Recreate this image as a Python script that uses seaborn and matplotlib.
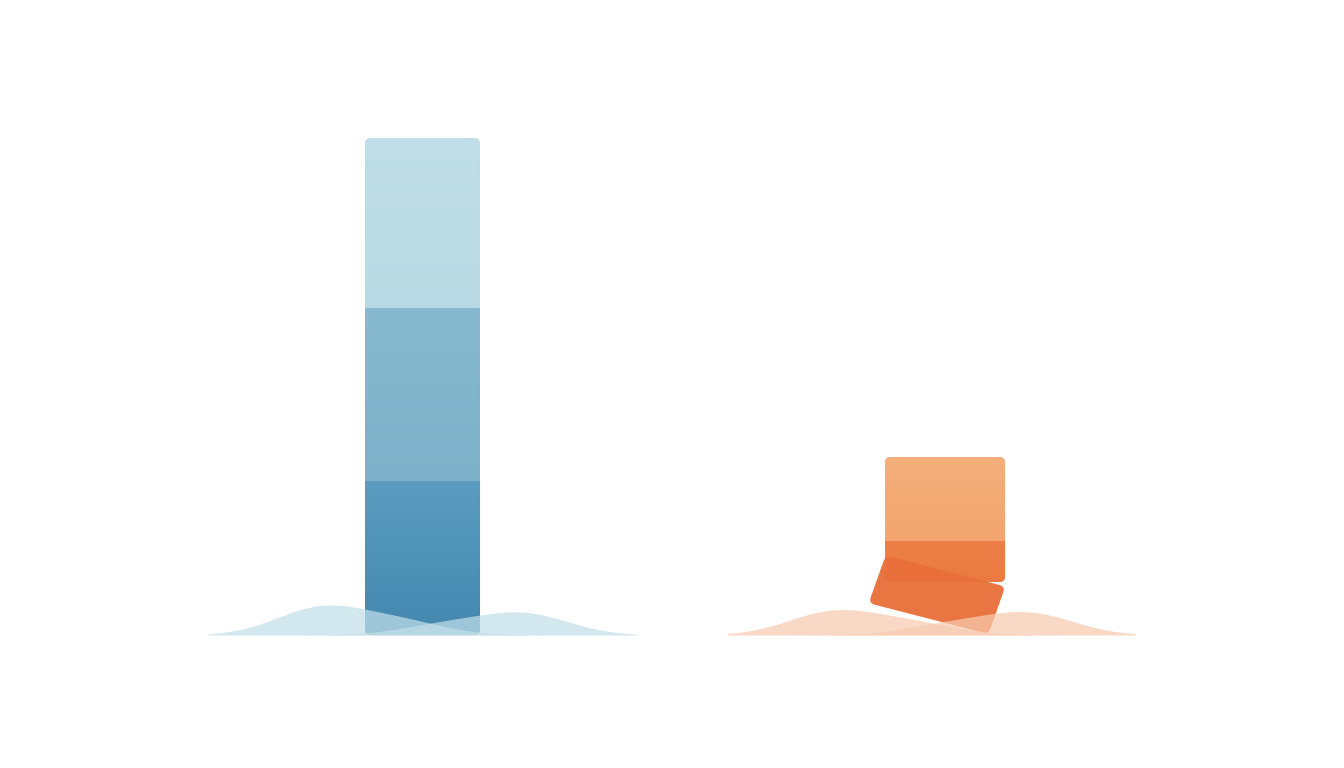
import numpy as np
import pandas as pd
import matplotlib
matplotlib.use("Agg")
import matplotlib.pyplot as plt
from matplotlib.patches import FancyBboxPatch
from matplotlib.transforms import Affine2D
from matplotlib.colors import LinearSegmentedColormap
import seaborn as sns

# ---------------- data ----------------
categories = ["A", "B"]
seg_bottom = [15.4, 5.3]   # bottom segment heights
seg_middle = [17.3, 4.1]   # middle segment heights
seg_top = [17.0, 8.4]      # top segment heights

# (bottom-of-segment colour, top-of-segment colour) for bottom, middle, top
blue_colors = [("#4488b0", "#5a9dc0"), ("#7cb1c9", "#87bad0"), ("#b8d9e3", "#c0dfe8")]
orange_colors = [("#e9703a", "#e9703a"), ("#ea7a40", "#ed7f46"), ("#f2a56e", "#f4af7b")]

# wave humps: sample positions on the category axis and their weights
blue_hump = ["L", "L", "R", "R"]
blue_pos = [-0.196, -0.043, 0.043, 0.196]
blue_w = [0.67, 0.33, 0.254, 0.516]
orange_hump = ["L", "L", "R", "R"]
orange_pos = [0.784, 0.937, 1.010, 1.163]
orange_w = [0.67, 0.33, 0.304, 0.616]
blue_wave_color = "#c2dfe9"
orange_wave_color = "#f7cbb0"

# ---------------- figure ----------------
sns.set_theme(style="white")
fig = plt.figure(figsize=(13.44, 7.68), dpi=100)
fig.patch.set_facecolor("white")
ax = fig.add_axes([0, 0, 1, 1])
ax.set_facecolor("white")

PX_X = 522.5   # pixels per category unit
PX_Y = 10.0    # pixels per value unit
x0_px, base_px = 422.5, 133.0

layers = [seg_bottom, seg_middle, seg_top]
bottoms = np.zeros(len(categories))
seg_patches = []
for li, layer in enumerate(layers):
    n0 = len(ax.patches)
    sns.barplot(x=categories, y=layer, bottom=bottoms.copy(), width=0.225,
                errorbar=None, ax=ax, color=blue_colors[li][0], linewidth=0)
    new = list(ax.patches[n0:])
    for ci, p in enumerate(new):
        cols = blue_colors if ci == 0 else orange_colors
        p.set_facecolor(cols[li][0])
        p.set_edgecolor("none")
        # per-bar widths (blue slimmer than orange)
        c = p.get_x() + p.get_width() / 2
        w = 0.22 if ci == 0 else 0.23
        p.set_width(w)
        p.set_x(c - w / 2)
    seg_patches.append(new)
    bottoms += np.array(layer)

ax.set_xlim(-x0_px / PX_X, (1344 - x0_px) / PX_X)
ax.set_ylim(-base_px / PX_Y, (768 - base_px) / PX_Y)
ax.set_autoscale_on(False)

r_x = 6 / PX_X
aspect = PX_X / PX_Y

def rounded(x, y, w, h, transform):
    return FancyBboxPatch((x, y), w, h,
                          boxstyle=f"round,pad=0,rounding_size={r_x}",
                          mutation_aspect=aspect, transform=transform)

def gradient(p, c_bottom, c_top, clip):
    cmap = LinearSegmentedColormap.from_list("g", [c_bottom, c_top])
    g = np.linspace(0, 1, 256).reshape(-1, 1)
    im = ax.imshow(g, extent=[p.get_x(), p.get_x() + p.get_width(),
                              p.get_y(), p.get_y() + p.get_height()],
                   origin="lower", aspect="auto", cmap=cmap, zorder=p.get_zorder() + 0.1,
                   interpolation="bilinear")
    im.set_clip_path(clip)

# blue stack: round whole bar
b_bot = seg_patches[0][0]
b_top = seg_patches[2][0]
clip_b = rounded(b_bot.get_x(), b_bot.get_y(), b_bot.get_width(),
                 b_top.get_y() + b_top.get_height() - b_bot.get_y(), ax.transData)
for li, layer in enumerate(seg_patches):
    layer[0].set_clip_path(clip_b)
    gradient(layer[0], blue_colors[li][0], blue_colors[li][1], clip_b)

# orange stack: middle + top straight, bottom segment tilted
o_mid = seg_patches[1][1]
o_top = seg_patches[2][1]
clip_o = rounded(o_mid.get_x(), o_mid.get_y(), o_mid.get_width(),
                 o_top.get_y() + o_top.get_height() - o_mid.get_y(), ax.transData)
o_mid.set_clip_path(clip_o)
o_top.set_clip_path(clip_o)
gradient(o_mid, orange_colors[1][0], orange_colors[1][1], clip_o)
gradient(o_top, orange_colors[2][0], orange_colors[2][1], clip_o)

o_bot = seg_patches[0][1]
tw = o_bot.get_width() * 1.03
th = o_bot.get_height() * 0.95
tx = o_bot.get_x() + o_bot.get_width() / 2 - tw / 2
ty = o_bot.get_y()
cx_d, cy_d = ax.transData.transform((tx + tw / 2, ty + th / 2))
tilt = ax.transData + (Affine2D().translate(-cx_d, -cy_d).skew_deg(5, 0)
                       .rotate_deg(-14.5).translate(cx_d - 8, cy_d + 15))
tilted = rounded(tx, ty, tw, th, tilt)
tilted.set_facecolor(orange_colors[0][0])
tilted.set_edgecolor("none")
tilted.set_alpha(0.96)
tilted.set_zorder(3)
ax.add_patch(tilted)
o_bot.set_visible(False)
ax.axis("off")

# ---------------- waves ----------------
def waves(pos, hump, w, color, cut, peak_px):
    axw = ax.twinx()
    df = pd.DataFrame({"pos": pos, "hump": hump, "w": w})
    sns.kdeplot(data=df, x="pos", hue="hump", weights="w", common_norm=True,
                common_grid=True, bw_method=0.795, fill=True, alpha=0.72,
                linewidth=0, palette=[color, color], legend=False, ax=axw,
                cut=cut, gridsize=400)
    ymax = max(np.max(c.get_paths()[0].vertices[:, 1]) for c in axw.collections)
    span = ymax / (peak_px / 768)
    lo = -(base_px / 768) * span
    axw.set_ylim(lo, lo + span)
    axw.set_xlim(ax.get_xlim())
    axw.axis("off")

waves(blue_pos, blue_hump, blue_w, blue_wave_color, 1.65, 30)
waves(orange_pos, orange_hump, orange_w, orange_wave_color, 1.6, 25.5)

fig.savefig("out.png", dpi=100, facecolor="white")
